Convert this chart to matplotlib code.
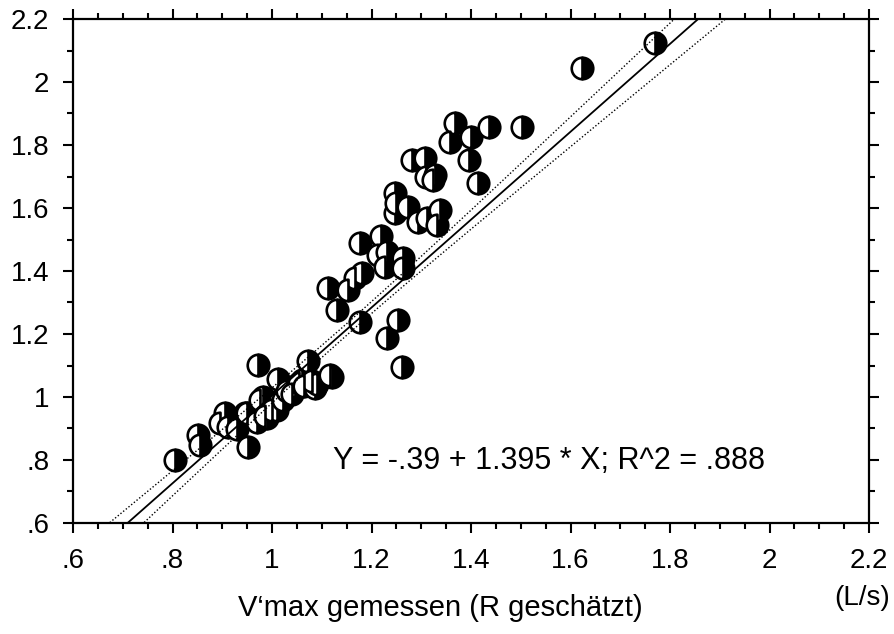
import numpy as np
import matplotlib
matplotlib.use("Agg")
import matplotlib.pyplot as plt
from matplotlib.ticker import MultipleLocator, FixedLocator

plt.rcParams['font.family'] = ['Liberation Sans', 'DejaVu Sans']

# measured (x) vs estimated (y) V'max, L/s
x_vals = [1.770, 1.623, 1.503, 1.436, 1.368, 1.358, 1.400, 1.396, 1.414, 1.281,
          1.308, 1.310, 1.328, 1.324, 1.247, 1.247, 1.273, 1.250, 1.338, 1.293,
          1.312, 1.332, 1.219, 1.177, 1.213, 1.231, 1.227, 1.263, 1.263, 1.181,
          1.167, 1.113, 1.153, 1.131, 1.177, 1.253, 1.231, 1.261, 1.073, 1.121,
          1.117, 0.972, 1.012, 1.060, 1.086, 0.982, 1.016, 0.946, 0.990, 0.970,
          0.905, 0.805, 0.851, 0.855, 0.952, 0.896, 0.911, 0.950, 0.976, 1.010,
          1.022, 1.046, 1.090, 1.055, 1.030, 0.930, 1.000, 1.040, 1.080, 0.985,
          1.065]
y_vals = [2.125, 2.044, 1.857, 1.857, 1.870, 1.810, 1.825, 1.752, 1.679, 1.752,
          1.759, 1.698, 1.705, 1.689, 1.648, 1.584, 1.603, 1.616, 1.595, 1.556,
          1.568, 1.546, 1.510, 1.489, 1.451, 1.460, 1.413, 1.441, 1.410, 1.394,
          1.378, 1.346, 1.340, 1.276, 1.238, 1.244, 1.187, 1.095, 1.114, 1.062,
          1.070, 1.102, 1.058, 1.054, 1.029, 1.000, 0.991, 0.949, 0.933, 0.921,
          0.950, 0.800, 0.879, 0.848, 0.841, 0.917, 0.905, 0.949, 0.990, 0.959,
          0.990, 1.035, 1.040, 1.045, 1.020, 0.900, 0.960, 1.010, 1.050, 0.940,
          1.035]

intercept = -0.39
slope = 1.395
r2_text = "Y = -.39 + 1.395 * X; R^2 = .888"

x_ticks = [0.6, 0.8, 1.0, 1.2, 1.4, 1.6, 1.8, 2.0, 2.2]
x_ticklabels = [".6", ".8", "1", "1.2", "1.4", "1.6", "1.8", "2", "2.2"]
y_ticks = [0.6, 0.8, 1.0, 1.2, 1.4, 1.6, 1.8, 2.0, 2.2]
y_ticklabels = [".6", ".8", "1", "1.2", "1.4", "1.6", "1.8", "2", "2.2"]

x = np.array(x_vals)
y = np.array(y_vals)

fig = plt.figure(figsize=(8.94, 6.34), dpi=100)
ax = fig.add_axes([73/894, 1-523/634, 796/894, 504/634])

ax.plot(x, y, linestyle='none', marker='o', ms=15.5, fillstyle='right',
        markerfacecolor='black', markerfacecoloralt='white',
        markeredgecolor='black', mew=1.9, zorder=3)

# regression line and standard-error band of the mean
n = len(x)
resid = y - (intercept + slope * x)
s = np.sqrt(np.sum(resid**2) / (n - 2))
xbar = x.mean()
sxx = np.sum((x - xbar)**2)
xs = np.linspace(0.55, 2.25, 300)
yh = intercept + slope * xs
half = 1.0 * s * np.sqrt(1/n + (xs - xbar)**2 / sxx)
ax.plot(xs, yh, color='black', lw=1.3, zorder=4)
ax.plot(xs, yh + half, color='black', lw=1.0, linestyle=(0, (1, 1.5)), zorder=4)
ax.plot(xs, yh - half, color='black', lw=1.0, linestyle=(0, (1, 1.5)), zorder=4)

ax.set_xlim(0.6, 2.2)
ax.set_ylim(0.6, 2.2)
ax.xaxis.set_major_locator(FixedLocator(x_ticks))
ax.set_xticklabels(x_ticklabels)
ax.yaxis.set_major_locator(FixedLocator(y_ticks))
ax.set_yticklabels(y_ticklabels)
ax.xaxis.set_minor_locator(MultipleLocator(0.05))
ax.yaxis.set_minor_locator(MultipleLocator(0.1))

ax.tick_params(which='both', direction='out', top=True, right=True,
               labelsize=20, width=1.5, colors='black')
ax.tick_params(which='major', length=7)
ax.tick_params(which='minor', length=4)
ax.tick_params(axis='x', which='major', pad=11)
ax.tick_params(axis='y', which='major', pad=10)
for sp in ax.spines.values():
    sp.set_linewidth(1.6)

ax.text(1.122, 0.797, r2_text, fontsize=22, ha='left', va='center')

fig.text(440/894, 1-608/634, "V‘max gemessen (R geschätzt)", fontsize=21,
         ha='center', va='center')
fig.text(862/894, 1-598/634, "(L/s)", fontsize=20, ha='center', va='center')

fig.savefig("out.png", dpi=100)
